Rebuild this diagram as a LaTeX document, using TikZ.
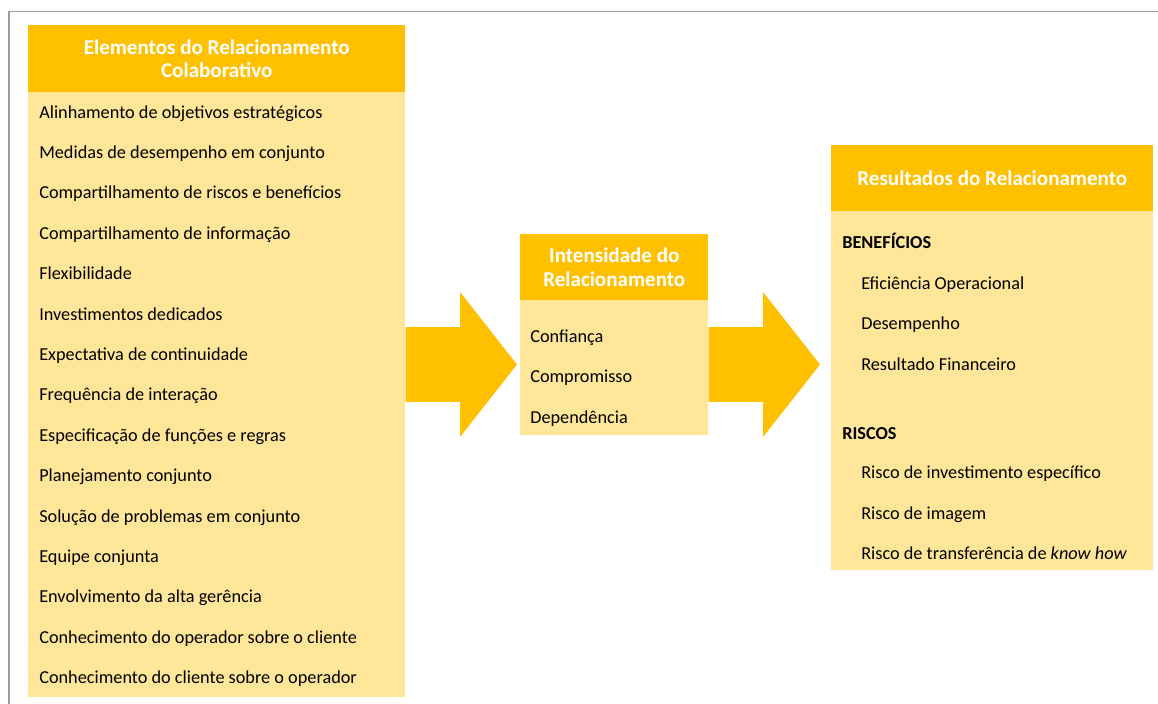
\documentclass[tikz,border=0pt]{standalone}
\usepackage{fontspec}
\setmainfont{Carlito}
\usepackage{xcolor}
\usetikzlibrary{calc}
\definecolor{ouro}{HTML}{FFC000}
\definecolor{ourocl}{HTML}{FFE699}
% seta larga de #1 ate #2 (ponta em #2)
\newcommand{\setab}[2]{%
  \fill[ouro] let \p1=(#1), \p2=(#2) in
    (\x1,\y1-28.1pt) -- (\x2-42.75pt,\y1-28.1pt) -- (\x2-42.75pt,\y1-54.4pt) -- (\x2,\y1)
    -- (\x2-42.75pt,\y1+54.4pt) -- (\x2-42.75pt,\y1+28.1pt) -- (\x1,\y1+28.1pt) -- cycle;}

\begin{document}
\begin{tikzpicture}[x=0.75pt,y=-0.75pt,
	cabeca/.style={fill=ouro,text=white,font=\fontsize{15.8}{17.8}\selectfont\bfseries,align=center,anchor=north west,inner sep=0pt},
	corpo/.style={fill=ourocl,anchor=north west,inner sep=0pt},
	item/.style={anchor=base west,inner sep=0pt}]
	\fontsize{13.7}{18}\selectfont
	\useasboundingbox (0,0) rectangle (1158,704);
	\draw[black!38,line width=1.1pt] (9,704) -- (9,11.5) -- (1158,11.5);

	% elementos
	\node[corpo,minimum width=282.75pt,minimum height=453.75pt] (elem) at (28,92) {};
	\node[cabeca,minimum width=282.75pt,minimum height=50.25pt] (elemh) at (28,25) {Elementos do Relacionamento\\Colaborativo};
	\foreach \t [count=\i from 0] in {Alinhamento de objetivos estratégicos, Medidas de desempenho em conjunto,
		Compartilhamento de riscos e benefícios, Compartilhamento de informação, Flexibilidade,
		Investimentos dedicados, Expectativa de continuidade, Frequência de interação,
		Especificação de funções e regras, Planejamento conjunto, Solução de problemas em conjunto,
		Equipe conjunta, Envolvimento da alta gerência, Conhecimento do operador sobre o cliente,
		Conhecimento do cliente sobre o operador}
		\node[item] (e\i) at (39,118+40.4*\i) {\t};

	% intensidade
	\node[corpo,minimum width=141pt,minimum height=101.25pt] (inten) at (520,300) {};
	\node[cabeca,minimum width=141pt,minimum height=49.5pt] (intenh) at (520,234) {Intensidade do\\Relacionamento};
	\node[item] (i1) at (530,342) {Confiança};
	\node[item] (i2) at (530,382.5) {Compromisso};
	\node[item] (i3) at (530,423) {Dependência};

	% resultados
	\node[corpo,minimum width=241.5pt,minimum height=269.25pt] (result) at (831,211) {};
	\node[cabeca,minimum width=241.5pt,minimum height=49.5pt] (resulth) at (831,145) {Resultados do Relacionamento};
	\node[item,font=\bfseries] (benef) at (842,248) {BENEFÍCIOS};
	\node[item] (b1) at (861,289) {Eficiência Operacional};
	\node[item] (b2) at (861,329.5) {Desempenho};
	\node[item] (b3) at (861,370) {Resultado Financeiro};
	\node[item,font=\bfseries] (riscos) at (842,439) {RISCOS};
	\node[item] (r1) at (861,478.5) {Risco de investimento específico};
	\node[item] (r2) at (861,519) {Risco de imagem};
	\node[item] (r3) at (861,559.5) {Risco de transferência de \textit{know how}};

	% setas
	\path (elem.east |- 0,364.5) coordinate (a1) ($(inten.west |- a1)+(-3,0)$) coordinate (a2);
	\path (inten.east |- a1) coordinate (c1) ($(result.west |- a1)+(-11,0)$) coordinate (c2);
	\setab{a1}{a2}
	\setab{c1}{c2}
\end{tikzpicture}
\end{document}
